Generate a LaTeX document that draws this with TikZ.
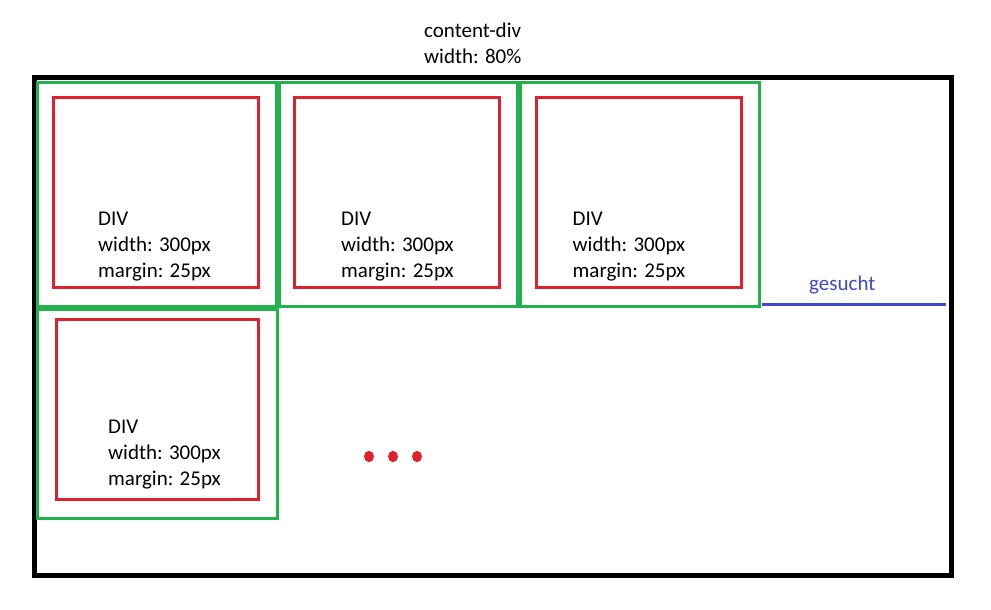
\documentclass[tikz,border=0pt]{standalone}
\usepackage{fontspec}
\setmainfont{Carlito}
\definecolor{pgreen}{HTML}{22B14C}
\definecolor{pred}{HTML}{E0202C}
\definecolor{pblue}{HTML}{3F48CC}
\begin{document}
\begin{tikzpicture}[x=1pt,y=-1pt,
  outerbox/.style={draw=black,line width=5pt},
  greenbox/.style={draw=pgreen,line width=3pt},
  redbox/.style={draw=pred,line width=3pt},
  lbl/.style={font=\fontsize{21pt}{26pt}\selectfont,align=left,anchor=base west,inner sep=0pt},
  dot/.style={fill=pred,draw=none}]
\useasboundingbox (0,0) rectangle (991,610);
\fill[white] (0,0) rectangle (991,610);
% outer container
\draw[outerbox] (34,77.5) rectangle (951,575.5);
% green boxes
\draw[greenbox] (37.5,83) rectangle (276.5,306.5);
\draw[greenbox] (279,83) rectangle (517,306.5);
\draw[greenbox] (520.5,83) rectangle (759,306.5);
\draw[greenbox] (37.5,309.5) rectangle (277.5,518);
% red boxes
\draw[redbox] (53.5,97.5) rectangle (258.5,287.5);
\draw[redbox] (294.5,97.5) rectangle (499.5,287.5);
\draw[redbox] (536.5,97.5) rectangle (741.5,287.5);
\draw[redbox] (56.5,319.5) rectangle (258.5,499.5);
% labels (anchor = baseline of last line)
\node[lbl] (t1) at (98,277) {DIV\\width: 300px\\margin: 25px};
\node[lbl] (t2) at (341,277) {DIV\\width: 300px\\margin: 25px};
\node[lbl] (t3) at (572.5,277) {DIV\\width: 300px\\margin: 25px};
\node[lbl] (t4) at (108,485) {DIV\\width: 300px\\margin: 25px};
\node[lbl] (title) at (424,63.3) {content-div\\width: 80\%};
\node[lbl,text=pblue] (gs) at (809,290.7) {gesucht};
% blue line
\coordinate (bl1) at (762,304);
\coordinate (bl2) at (946,304);
\draw[pblue,line width=3pt] (bl1) -- (bl2);
% dots
\fill[dot] (369,456.5) ellipse [x radius=5pt,y radius=5.7pt];
\fill[dot] (393,456.5) ellipse [x radius=5pt,y radius=5.7pt];
\fill[dot] (417,456.5) ellipse [x radius=5pt,y radius=5.7pt];
\end{tikzpicture}
\end{document}
